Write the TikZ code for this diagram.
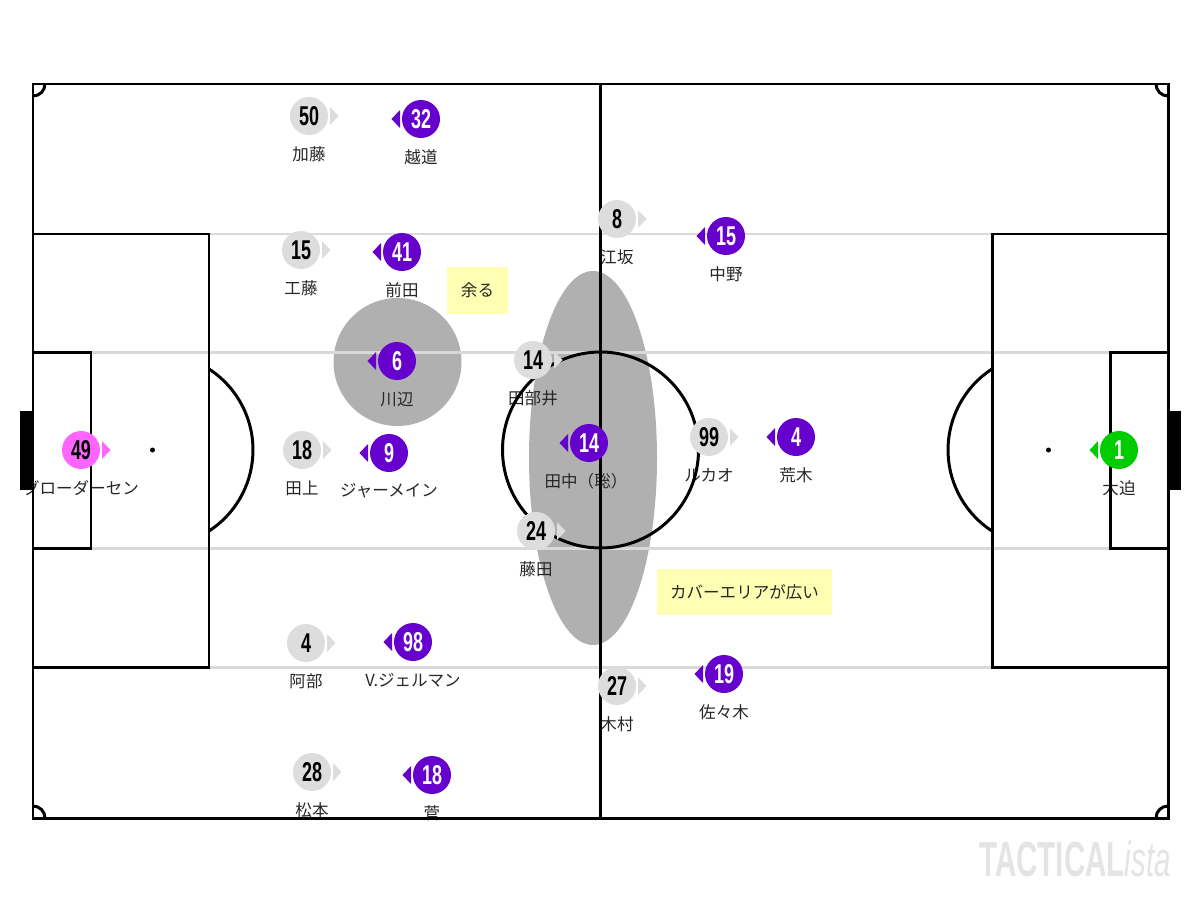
\documentclass[tikz,border=0pt]{standalone}
\usepackage{graphicx}
\usepackage{fontspec}
\setmainfont{Noto Sans CJK JP}
\newfontfamily\numfont{Liberation Sans}
\definecolor{homegrey}{HTML}{DDDDDD}
\definecolor{awaypurple}{HTML}{6600CC}
\definecolor{gkpink}{HTML}{FF66FF}
\definecolor{gkgreen}{HTML}{00CC00}
\definecolor{zonegrey}{HTML}{B0B0B0}
\definecolor{notefill}{HTML}{FFFFB3}
\definecolor{bandgrey}{HTML}{D9D9D9}
\definecolor{markgrey}{HTML}{E4E4E4}
\pgfdeclarelayer{zones}
\pgfdeclarelayer{labels}
\pgfsetlayers{zones,labels,main}
\tikzset{
  pitchline/.style={draw=black,line width=1.7pt},
  bandline/.style={draw=bandgrey,line width=1.7pt},
  zone/.style={fill=zonegrey},
  disc/.style={circle,minimum size=38*0.02cm,inner sep=0pt},
  plabel/.style={font=\fontsize{9.4pt}{11pt}\selectfont,text=black!85,inner sep=0pt},
  note/.style={fill=notefill,inner sep=0pt,font=\fontsize{9.4pt}{11pt}\selectfont,text=black!85},
}
\newcommand{\Num}[1]{\scalebox{0.66}[1]{\numfont\fontsize{15.5pt}{16pt}\selectfont\bfseries #1}}
% [label shift]{name}{x}{y}{number}{label}
\newcommand{\HomePl}[6][0]{%
  \node[disc,fill=homegrey,text=black] (#2) at (#3,#4) {\Num{#5}};
  \fill[homegrey,shift={(#2.center)}] (21,-9) -- (29.5,0) -- (21,9) -- cycle;
  \begin{pgfonlayer}{labels}\node[plabel] (#2-lab) at (#3+#1,#4+38) {#6};\end{pgfonlayer}
}
\newcommand{\AwayPl}[6][0]{%
  \node[disc,fill=awaypurple,text=white] (#2) at (#3,#4) {\Num{#5}};
  \fill[awaypurple,shift={(#2.center)}] (-21,-9) -- (-29.5,0) -- (-21,9) -- cycle;
  \begin{pgfonlayer}{labels}\node[plabel] (#2-lab) at (#3+#1,#4+38) {#6};\end{pgfonlayer}
}
\begin{document}
\begin{tikzpicture}[x=0.02cm,y=-0.02cm]
\useasboundingbox (0,0) rectangle (1200,900);
% zones
\begin{pgfonlayer}{zones}
\fill[white] (0,0) rectangle (1200,900);
\fill[zone] (397.5,362) circle (64);
\fill[zone] (593,458) ellipse (64 and 187);
\end{pgfonlayer}
% pitch
\draw[bandline] (33,234) -- (1168,234);
\draw[bandline] (33,352) -- (1168,352);
\draw[bandline] (33,548) -- (1168,548);
\draw[bandline] (33,667) -- (1168,667);
\draw[pitchline] (33,84) rectangle (1168,818);
\draw[pitchline] (600.5,84) -- (600.5,818);
\draw[pitchline] (600.5,450) circle (98);
\draw[pitchline] (33,234) -- (209,234) -- (209,667) -- (33,667);
\draw[pitchline] (1168,234) -- (992,234) -- (992,667) -- (1168,667);
\draw[pitchline] (33,352) rectangle (91,548);
\draw[pitchline] (1110,352) rectangle (1168,548);
\draw[pitchline] (209,369) arc[start angle=-57,end angle=57,radius=96.6];
\draw[pitchline] (992,369) arc[start angle=237,end angle=123,radius=96.6];
\draw[pitchline] (45,84) arc[start angle=0,end angle=90,radius=12];
\draw[pitchline] (1156,84) arc[start angle=180,end angle=90,radius=12];
\draw[pitchline] (45,818) arc[start angle=0,end angle=-90,radius=12];
\draw[pitchline] (1156,818) arc[start angle=180,end angle=270,radius=12];
\fill[black] (20,411) rectangle (33,490);
\fill[black] (1168,411) rectangle (1181,490);
\fill[black] (152.5,450) circle (2.5);
\fill[black] (1048.5,450) circle (2.5);
% notes
\node[note,minimum width=61*0.02cm,minimum height=47*0.02cm] (amaru) at (477.5,290.5) {余る};
\node[note,minimum width=175*0.02cm,minimum height=46*0.02cm] (cover) at (744.5,592) {カバーエリアが広い};
% home
\HomePl{kato}{309}{116}{50}{加藤}
\HomePl{kudo}{301}{250}{15}{工藤}
\HomePl{tabei}{533}{360}{14}{田部井}
\HomePl{tagami}{302}{450}{18}{田上}
\HomePl{abe}{306}{643}{4}{阿部}
\HomePl{matsumoto}{312}{772}{28}{松本}
\HomePl{esaka}{617}{219}{8}{江坂}
\HomePl{lucao}{709}{437}{99}{ルカオ}
\HomePl{fujita}{536}{531}{24}{藤田}
\HomePl{kimura}{617}{686}{27}{木村}
\node[disc,fill=gkpink,text=black] (gk49) at (81,450) {\Num{49}};
\fill[gkpink,shift={(gk49.center)}] (21,-9) -- (29.5,0) -- (21,9) -- cycle;
\begin{pgfonlayer}{labels}\node[plabel] (gk49-lab) at (81,488) {グローダーセン};\end{pgfonlayer}
% away
\AwayPl{koshimichi}{421}{119}{32}{越道}
\AwayPl{maeda}{402}{252}{41}{前田}
\AwayPl{kawabe}{397}{361}{6}{川辺}
\AwayPl{jermaine}{389}{453}{9}{ジャーメイン}
\AwayPl[-3]{tanaka}{589}{443}{14}{田中（聡）}
\AwayPl{araki}{796}{437}{4}{荒木}
\AwayPl{nakano}{726}{236}{15}{中野}
\AwayPl{germain}{413}{642}{98}{V.ジェルマン}
\AwayPl{sasaki}{724}{674}{19}{佐々木}
\AwayPl{suga}{432}{775}{18}{菅}
\node[disc,fill=gkgreen,text=white] (gk1) at (1119,450) {\Num{1}};
\fill[gkgreen,shift={(gk1.center)}] (-21,-9) -- (-29.5,0) -- (-21,9) -- cycle;
\begin{pgfonlayer}{labels}\node[plabel] (gk1-lab) at (1119,488) {大迫};\end{pgfonlayer}
% watermark
\node[anchor=base east,inner sep=0pt,text=markgrey] (mark) at (1171,876) {\scalebox{0.6}[1]{\numfont\fontsize{28pt}{28pt}\selectfont\bfseries TACTICAL\mdseries\itshape ista}};
\end{tikzpicture}
\end{document}
